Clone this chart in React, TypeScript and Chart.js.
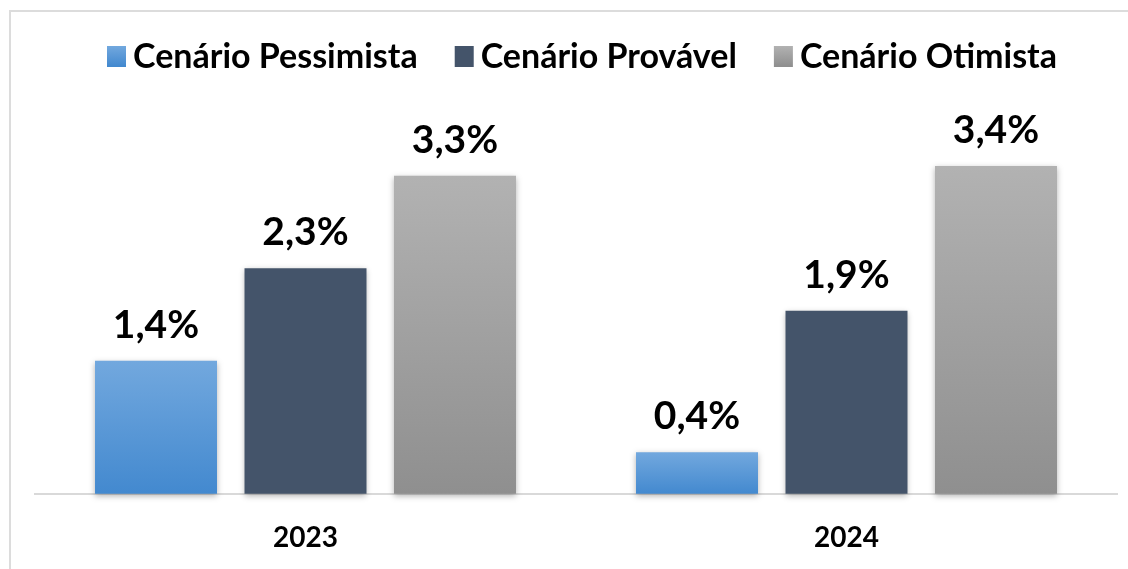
import React, { useEffect, useRef } from "react";
import { Chart, registerables } from "chart.js";

Chart.register(...registerables);

// ---- data ----
const categories = ["2023", "2024"];
const seriesNames = ["Cenário Pessimista", "Cenário Provável", "Cenário Otimista"];
const pessimista = [1.38, 0.43];
const provavel = [2.34, 1.9];
const otimista = [3.3, 3.4];
const Y_MAX = 4.085;

// ---- styles ----
const FONT = "Lato, 'Open Sans', sans-serif";
const solidColors = ["#5b9bd5", "#44546a", "#a5a5a5"];
const gradientStops: (string[] | null)[] = [
  ["#72a8de", "#4389cf"],
  null,
  ["#b2b2b2", "#8f8f8f"],
];

const W = 1128;
const H = 569;
const CANVAS_H = 600;

function barFill(ctx: any) {
  const i = ctx.datasetIndex;
  const stops = gradientStops[i];
  if (!stops || ctx.type !== "data") return solidColors[i];
  const chart = ctx.chart;
  const ys = chart.scales && chart.scales.y;
  if (!ys) return solidColors[i];
  const top = ys.getPixelForValue(ctx.raw);
  const base = ys.getPixelForValue(0);
  if (!isFinite(top) || !isFinite(base) || top === base) return solidColors[i];
  const g = chart.ctx.createLinearGradient(0, top, 0, base);
  g.addColorStop(0, stops[0]);
  g.addColorStop(1, stops[1]);
  return g;
}

const fmt = (v: number) => v.toFixed(1).replace(".", ",") + "%";

const decorPlugin = {
  id: "decor",
  beforeDatasetsDraw(chart: any) {
    const c = chart.ctx;
    c.save();
    c.shadowColor = "rgba(0,0,0,0.3)";
    c.shadowBlur = 6;
    c.shadowOffsetY = 2;
  },
  afterDatasetsDraw(chart: any) {
    const c = chart.ctx;
    c.restore();
    c.save();
    c.font = `bold 39px ${FONT}`;
    c.fillStyle = "#000000";
    c.textAlign = "center";
    c.textBaseline = "alphabetic";
    chart.data.datasets.forEach((ds: any, di: number) => {
      const meta = chart.getDatasetMeta(di);
      meta.data.forEach((el: any, idx: number) => {
        c.fillText(fmt(ds.data[idx]), el.x, el.y - 23);
      });
    });
    c.restore();
  },
  afterDraw(chart: any) {
    // legend
    const c = chart.ctx;
    c.save();
    c.font = `bold 34px ${FONT}`;
    c.textBaseline = "middle";
    c.textAlign = "left";
    let x = 107;
    const yMid = 56;
    const box = 20;
    chart.data.datasets.forEach((ds: any, i: number) => {
      const stops = gradientStops[i];
      if (stops) {
        const g = c.createLinearGradient(0, yMid - box / 2, 0, yMid + box / 2);
        g.addColorStop(0, stops[0]);
        g.addColorStop(1, stops[1]);
        c.fillStyle = g;
      } else {
        c.fillStyle = solidColors[i];
      }
      c.fillRect(x, yMid - box / 2, box - 1, box + 1);
      x += box + 6;
      c.fillStyle = "#000000";
      c.fillText(ds.label, x, yMid + 1);
      x += c.measureText(ds.label).width + 37;
    });
    c.restore();
  },
};

export default function App() {
  const ref = useRef<HTMLCanvasElement | null>(null);

  useEffect(() => {
    if (!ref.current) return;
    const seriesData = [pessimista, provavel, otimista];
    const chart = new Chart(ref.current, {
      type: "bar",
      data: {
        labels: categories,
        datasets: seriesNames.map((name, i) => ({
          label: name,
          data: seriesData[i],
          backgroundColor: barFill,
          borderWidth: 0,
          categoryPercentage: 0.829,
          barPercentage: 0.816,
          clip: false as any,
        })),
      },
      options: {
        responsive: false,
        animation: false,
        devicePixelRatio: 1,
        layout: { padding: { top: 100, left: 35, right: 11, bottom: 18.6 } },
        plugins: {
          legend: { display: false },
          title: { display: false },
          tooltip: { enabled: false },
        },
        scales: {
          x: {
            grid: { display: false, drawTicks: false },
            border: { display: true, color: "#d9d9d9", width: 2 },
            ticks: {
              padding: 27,
              color: "#000000",
              font: { family: FONT, size: 28, weight: "bold" },
            },
          },
          y: {
            display: false,
            min: 0,
            max: Y_MAX,
          },
        },
      },
      plugins: [decorPlugin],
    });
    return () => chart.destroy();
  }, []);

  return (
    <div
      style={{
        position: "fixed",
        left: 0,
        top: 0,
        width: W,
        height: H,
        overflow: "hidden",
        background: "#ffffff",
      }}
    >
      <div
        style={{
          position: "absolute",
          left: 9,
          top: 10,
          width: 2000,
          height: 2000,
          borderTop: "2px solid #dcdcdc",
          borderLeft: "2px solid #dcdcdc",
        }}
      />
      <canvas
        ref={ref}
        width={W}
        height={CANVAS_H}
        style={{ position: "absolute", left: 0, top: 0, width: W, height: CANVAS_H }}
      />
    </div>
  );
}
